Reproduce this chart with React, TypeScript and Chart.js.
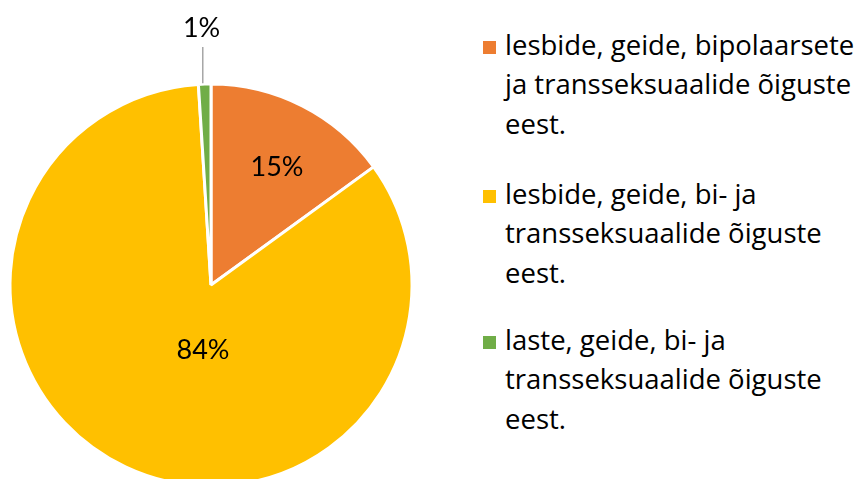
import React, { useEffect, useRef } from "react";
import { Chart, registerables } from "chart.js";

Chart.register(...registerables);

// ---- data ----
const categories: string[][] = [
  ["lesbide, geide, bipolaarsete", "ja transseksuaalide õiguste", "eest."],
  ["lesbide, geide, bi- ja", "transseksuaalide õiguste", "eest."],
  ["laste, geide, bi- ja", "transseksuaalide õiguste", "eest."],
];
const values = [15, 84, 1];
const valueLabels = ["15%", "84%", "1%"];
const colors = ["#ED7D31", "#FFC000", "#70AD47"];

// ---- label placement (style) ----
const PLACE = [
  { da: 2.2, rf: 0.673, leader: false },
  { da: -18.2, rf: 0.328, leader: false },
  { da: -0.3, rf: 1.28, leader: true },
];
const FONT = "Lato, 'Open Sans', sans-serif";
const LEGEND_FONT = "'Open Sans', sans-serif";

const labelPlugin = {
  id: "sliceLabels",
  afterDatasetsDraw(chart: any) {
    const ctx = chart.ctx;
    const meta = chart.getDatasetMeta(0);
    ctx.save();
    ctx.font = `27px ${FONT}`;
    ctx.fillStyle = "#000";
    ctx.textAlign = "center";
    ctx.textBaseline = "middle";
    meta.data.forEach((arc: any, i: number) => {
      const p = arc.getProps(["x", "y", "startAngle", "endAngle", "outerRadius"], true);
      const pl = PLACE[i];
      const mid = (p.startAngle + p.endAngle) / 2 + (pl.da * Math.PI) / 180;
      const r = p.outerRadius * pl.rf;
      const x = p.x + Math.cos(mid) * r;
      const y = p.y + Math.sin(mid) * r;
      ctx.fillText(valueLabels[i], x, y);
      if (pl.leader) {
        const lx = x + 1.2;
        const dx = lx - p.x;
        const yEdge = p.y - Math.sqrt(Math.max(0, p.outerRadius * p.outerRadius - dx * dx));
        ctx.beginPath();
        ctx.strokeStyle = "#A6A6A6";
        ctx.lineWidth = 1.5;
        ctx.moveTo(lx, y + 19);
        ctx.lineTo(lx, yEdge - 1);
        ctx.stroke();
      }
    });
    ctx.restore();
  },
};

function App() {
  const ref = useRef<HTMLCanvasElement | null>(null);

  useEffect(() => {
    if (!ref.current) return;
    const chart = new Chart(ref.current, {
      type: "pie",
      data: {
        labels: categories,
        datasets: [
          {
            data: values,
            backgroundColor: colors,
            borderColor: "#FFFFFF",
            borderWidth: 3,
            hoverBorderWidth: 3,
            hoverOffset: 0,
          },
        ],
      },
      options: {
        animation: false,
        responsive: false,
        maintainAspectRatio: false,
        events: [],
        layout: { padding: { left: 8.5, top: 82.5, right: 16.5, bottom: 112.5 } },
        plugins: {
          legend: { display: false },
          tooltip: { enabled: false },
        },
      },
      plugins: [labelPlugin],
    });
    return () => chart.destroy();
  }, []);

  const itemTops = [24.6, 173.6, 319.6];

  return (
    <div
      style={{
        position: "absolute",
        left: 0,
        top: 0,
        width: 865,
        height: 479,
        overflow: "hidden",
        background: "#fff",
      }}
    >
      <canvas
        ref={ref}
        width={430}
        height={600}
        style={{ position: "absolute", left: 0, top: 0, width: 430, height: 600 }}
      />
      {categories.map((lines, i) => (
        <div key={i} style={{ position: "absolute", left: 0, top: itemTops[i] }}>
          <div
            style={{
              position: "absolute",
              left: 483,
              top: 30.4 - 7 - 6.5,
              width: 13,
              height: 13,
              background: colors[i],
            }}
          />
          <div
            style={{
              position: "absolute",
              left: 505,
              top: 0,
              whiteSpace: "nowrap",
              fontFamily: LEGEND_FONT,
              fontSize: 27.5,
              lineHeight: "39.5px",
              color: "#000",
            }}
          >
            {lines.map((l, j) => (
              <div key={j}>{l}</div>
            ))}
          </div>
        </div>
      ))}
    </div>
  );
}

export default App;
